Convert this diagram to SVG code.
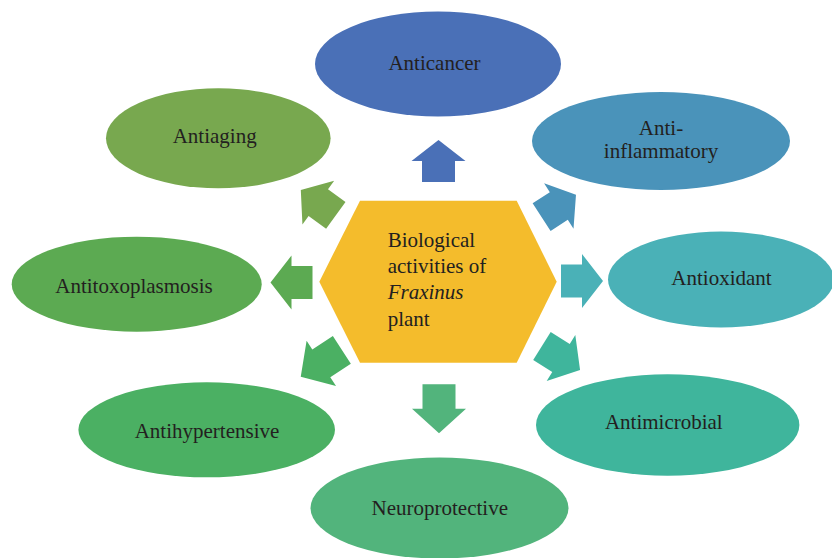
<svg xmlns="http://www.w3.org/2000/svg" xmlns:xlink="http://www.w3.org/1999/xlink" width="832" height="558" viewBox="0 0 832 558">
<style>
  text { font-family: "Liberation Serif", "DejaVu Serif", serif; font-size: 21px; fill: #231f20; }
  .c { text-anchor: middle; }
</style>
<defs>
  <path id="arr" d="M-21,-16.5 H0 V-27 L21,0 L0,27 V16.5 H-21 Z"/>
</defs>
<rect width="832" height="558" fill="#ffffff"/>

<g id="connectors">
  <use xlink:href="#arr" href="#arr" fill="#4a70b7" transform="translate(438.5,161) rotate(-90)"/>
  <use xlink:href="#arr" href="#arr" fill="#4a93ba" transform="translate(558.8,206) rotate(-33) scale(0.976,1)"/>
  <use xlink:href="#arr" href="#arr" fill="#4ab1b7" transform="translate(582,281) rotate(0)"/>
  <use xlink:href="#arr" href="#arr" fill="#3fb59c" transform="translate(561,358) rotate(32) scale(1.07,1)"/>
  <use xlink:href="#arr" href="#arr" fill="#52b47c" transform="translate(439,408.7) rotate(90) scale(1.167,1)"/>
  <use xlink:href="#arr" href="#arr" fill="#4bb063" transform="translate(321.3,363.3) rotate(147) scale(1.167,1)"/>
  <use xlink:href="#arr" href="#arr" fill="#5caa52" transform="translate(291.5,282.5) rotate(180)"/>
  <use xlink:href="#arr" href="#arr" fill="#78a84f" transform="translate(318.3,202.7) rotate(216) scale(1.03,1)"/>
</g>

<g id="center">
  <polygon points="360,200.7 516.7,200.7 556.7,281.7 516.7,362.7 360,362.7 319.3,281.7" fill="#f4bc2c"/>
  <text x="387.7" y="247.3">Biological</text>
  <text x="387.7" y="273.3">activities of</text>
  <text x="387.7" y="298.8"><tspan font-style="italic">Fraxinus</tspan></text>
  <text x="387.7" y="325.5">plant</text>
</g>

<g id="anticancer">
  <ellipse cx="438" cy="64" rx="123" ry="52.5" fill="#4a70b7"/>
  <text class="c" x="434.5" y="70">Anticancer</text>
</g>

<g id="antiinflammatory">
  <ellipse cx="661" cy="141" rx="129" ry="49" fill="#4a93ba"/>
  <text class="c" x="661" y="135">Anti-</text>
  <text class="c" x="661" y="158.3">inflammatory</text>
</g>

<g id="antioxidant">
  <ellipse cx="721" cy="279.5" rx="113" ry="48" fill="#4ab1b7"/>
  <text class="c" x="721.5" y="285">Antioxidant</text>
</g>

<g id="antimicrobial">
  <ellipse cx="667.7" cy="425" rx="131.7" ry="50.7" fill="#3fb59c"/>
  <text class="c" x="663.8" y="429.3">Antimicrobial</text>
</g>

<g id="neuroprotective">
  <ellipse cx="439.5" cy="508" rx="129" ry="50.5" fill="#52b47c"/>
  <text class="c" x="439.8" y="515">Neuroprotective</text>
</g>

<g id="antihypertensive">
  <ellipse cx="206.7" cy="429.8" rx="128.3" ry="47.5" fill="#4bb063"/>
  <text class="c" x="207" y="438.3">Antihypertensive</text>
</g>

<g id="antitoxoplasmosis">
  <ellipse cx="136.7" cy="284.2" rx="125" ry="47.5" fill="#5caa52"/>
  <text class="c" x="134" y="292.7">Antitoxoplasmosis</text>
</g>

<g id="antiaging">
  <ellipse cx="218.3" cy="138.3" rx="112.3" ry="50" fill="#78a84f"/>
  <text class="c" x="214.7" y="143.3">Antiaging</text>
</g>
</svg>
